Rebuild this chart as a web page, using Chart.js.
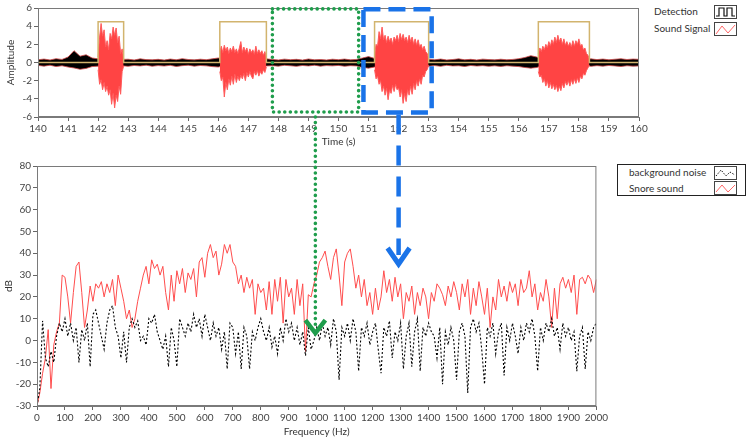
<!DOCTYPE html>
<html>
<head>
<meta charset="utf-8">
<script src="https://cdn.jsdelivr.net/npm/chart.js@4.4.1/dist/chart.umd.min.js"></script>
<style>
html, body { margin: 0; padding: 0; background: #fff; }
#wrap { position: relative; width: 750px; height: 440px; overflow: hidden; font-family: Lato, "Noto Sans", sans-serif; color: #333; }
#topChart { position: absolute; left: 0; top: 0; }
#botChart { position: absolute; left: 0; top: 150px; }
#overlay { position: absolute; left: 0; top: 0; pointer-events: none; }
.lg { position: absolute; font-size: 10px; line-height: 14px; white-space: nowrap; }
.ico { position: absolute; width: 21px; height: 12px; border: 1.5px solid #444; background: #fff; }
.ico svg { display: block; }
#botLegend { position: absolute; left: 617px; top: 164px; width: 127px; height: 30px; border: 1.5px solid #222; }
</style>
</head>
<body>
<div id="wrap">
  <canvas id="topChart" width="650" height="150"></canvas>
  <canvas id="botChart" width="610" height="290"></canvas>

  <div class="lg" style="left:654px;top:4px">Detection</div>
  <div class="ico" style="left:714px;top:5px"><svg width="21" height="12"><path d="M1 10 H4 V2 H9 V10 H12 V2 H17 V10 H20" fill="none" stroke="#111" stroke-width="1.2"/></svg></div>
  <div class="lg" style="left:654px;top:21px">Sound Signal</div>
  <div class="ico" style="left:714px;top:22px"><svg width="21" height="12"><path d="M1 11 L7 3 L13 10 L20 2" fill="none" stroke="#f66" stroke-width="1"/></svg></div>

  <div id="botLegend"></div>
  <div class="lg" style="left:629px;top:165px">background noise</div>
  <div class="ico" style="left:714px;top:166px"><svg width="21" height="12"><path d="M1 9 L6 3 L11 9 L15 5 L20 8" fill="none" stroke="#111" stroke-width="1" stroke-dasharray="1.5,1.5"/></svg></div>
  <div class="lg" style="left:629px;top:181px">Snore sound</div>
  <div class="ico" style="left:714px;top:181px"><svg width="21" height="12"><path d="M1 10 L7 3 L13 10 L20 3" fill="none" stroke="#f66" stroke-width="1"/></svg></div>

  <canvas id="overlay" width="750" height="440"></canvas>
</div>
<script>
// ---- top panel: detection gate (time s / level)
var detectTimes = [140, 142.0, 142.85, 146.05, 147.6, 151.2, 153.0, 156.65, 158.35, 160];
var detectLevels = [0, 4.5, 0, 4.5, 0, 4.5, 0, 4.5, 0, 0];

// background (non-snore) signal envelope, one value every 0.2 s from 140 s
var noiseStart = 140, noiseStep = 0.2;
var noiseUpper = [
  0.30,0.38,0.28,0.42,0.34,0.60,1.30,0.70,0.85,0.50,
  0.40,0.30,0.32,0.30,0.34,0.36,0.28,0.40,0.32,0.30,
  0.35,0.27,0.38,0.30,0.42,0.33,0.29,0.36,0.31,0.40,
  0.50,0.32,0.30,0.30,0.30,0.30,0.30,0.30,0.40,0.34,
  0.28,0.37,0.31,0.35,0.27,0.39,0.30,0.33,0.28,0.36,
  0.31,0.38,0.29,0.34,0.50,0.65,0.45,0.30,0.30,0.30,
  0.30,0.30,0.30,0.30,0.30,0.36,0.30,0.38,0.28,0.33,
  0.40,0.30,0.35,0.28,0.37,0.32,0.29,0.36,0.30,0.34,
  0.42,0.55,0.75,0.60,0.30,0.30,0.30,0.30,0.30,0.30,
  0.30,0.30,0.40,0.32,0.38,0.30,0.36,0.41,0.33,0.38,
  0.35];
var noiseLower = [
  -0.32,-0.40,-0.30,-0.45,-0.36,-0.50,-0.60,-0.75,-0.65,-0.45,
  -0.40,-0.30,-0.30,-0.30,-0.36,-0.42,-0.33,-0.38,-0.30,-0.41,
  -0.34,-0.39,-0.31,-0.44,-0.35,-0.30,-0.40,-0.33,-0.37,-0.45,
  -0.50,-0.30,-0.30,-0.30,-0.30,-0.30,-0.30,-0.30,-0.38,-0.35,
  -0.40,-0.31,-0.36,-0.42,-0.33,-0.38,-0.30,-0.40,-0.34,-0.37,
  -0.32,-0.41,-0.35,-0.38,-0.55,-0.62,-0.50,-0.30,-0.30,-0.30,
  -0.30,-0.30,-0.30,-0.30,-0.30,-0.40,-0.34,-0.42,-0.31,-0.38,
  -0.36,-0.44,-0.33,-0.39,-0.35,-0.41,-0.37,-0.43,-0.36,-0.40,
  -0.45,-0.55,-0.62,-0.55,-0.30,-0.30,-0.30,-0.30,-0.30,-0.30,
  -0.30,-0.30,-0.42,-0.35,-0.40,-0.33,-0.38,-0.44,-0.36,-0.40,
  -0.38];

// snore episodes: envelope every 0.05 s from each start time
var snoreStarts = [142.0, 146.05, 151.2, 156.65];
var snoreStep = 0.05;
var snore1Upper = [0.6,2.8,4.3,2.9,3.6,1.7,2.4,1.4,3.2,2.6,3.9,3.0,3.8,2.2,2.9,1.0,1.5,0.4];
var snore1Lower = [-0.8,-2.4,-1.9,-3.0,-2.2,-3.2,-2.6,-3.6,-3.0,-4.6,-3.4,-5.0,-3.6,-4.3,-2.6,-3.5,-1.0,-0.4];
var snore2Upper = [1.2,1.8,1.1,1.9,1.3,1.7,1.0,1.6,1.2,1.8,1.1,1.5,1.0,1.6,2.3,1.1,1.7,1.2,1.6,0.9,1.5,1.1,1.4,0.9,1.8,1.0,1.4,1.0,1.3,0.8,1.2,0.6];
var snore2Lower = [-1.0,-2.0,-1.6,-3.8,-2.2,-3.0,-1.8,-2.5,-1.5,-2.4,-1.3,-2.2,-1.5,-2.0,-1.4,-1.8,-1.2,-2.0,-1.1,-1.6,-1.0,-1.5,-1.8,-1.0,-1.4,-0.9,-1.5,-1.0,-1.3,-0.8,-1.1,-0.5];
var snore3Upper = [0.8,2.0,1.8,3.4,2.6,3.9,2.5,3.0,2.2,2.9,2.3,2.7,2.0,2.8,2.4,3.0,2.3,3.2,2.5,3.1,2.4,2.8,2.2,3.0,2.3,2.8,2.0,2.6,1.9,2.5,1.7,2.0,1.4,1.8,1.2,1.0,0.4];
var snore3Lower = [-0.8,-1.8,-1.5,-2.4,-2.0,-3.2,-2.6,-3.6,-2.8,-4.1,-3.0,-3.4,-2.5,-3.2,-2.4,-3.0,-2.8,-3.8,-3.0,-4.5,-3.4,-4.3,-3.0,-3.6,-2.6,-3.5,-2.3,-3.0,-2.0,-2.6,-1.8,-2.4,-1.4,-1.6,-1.0,-0.8,-0.3];
var snore4Upper = [1.0,1.6,1.2,1.8,1.4,2.0,1.6,2.3,1.8,2.5,2.0,2.8,2.2,3.0,2.3,2.7,2.0,2.6,1.9,2.3,1.8,2.2,1.7,2.4,1.8,2.4,2.0,2.6,1.8,2.0,1.4,1.6,1.0,0.8,0.4];
var snore4Lower = [-1.0,-1.6,-1.4,-2.2,-1.8,-2.6,-2.0,-2.8,-2.2,-2.9,-2.4,-3.0,-2.5,-3.2,-2.6,-3.1,-2.3,-2.8,-2.1,-2.5,-2.0,-2.6,-1.9,-2.4,-1.8,-2.3,-1.7,-2.2,-1.5,-1.8,-1.2,-1.4,-0.9,-0.6,-0.3];

// ---- bottom panel: spectrum, one value every 10 Hz from 0 Hz
var freqStep = 10;
var snoreDb = [
  -30,-24,-15,-8,5,-22,-2,4,8,30,
  29,20,8,22,34,36,22,6,14,25,
  18,26,24,27,20,26,22,28,16,30,
  24,18,10,14,6,10,18,24,30,34,
  26,37,33,35,30,34,22,14,30,18,
  32,26,33,22,31,28,33,20,36,38,
  29,40,44,38,41,30,35,44,40,44,
  36,34,26,30,22,29,24,28,12,26,
  22,24,14,27,12,28,18,29,8,28,
  20,24,12,28,16,26,-5,21,20,26,
  30,36,38,41,34,28,38,42,30,16,
  36,40,42,34,24,30,20,28,16,22,
  12,24,14,20,32,22,28,18,29,20,
  26,10,22,18,25,12,22,16,24,20,
  10,22,18,26,24,21,16,25,20,27,
  22,14,26,20,28,12,24,16,27,20,
  12,24,6,20,14,28,20,25,18,27,
  22,26,16,28,22,24,32,20,26,14,
  22,18,28,20,6,24,10,26,29,24,
  28,22,30,12,28,29,26,30,28,22,
  28];
var backgroundDb = [
  -30,-22,9,-8,-12,-5,-10,2,8,4,
  10,2,8,0,6,-10,5,0,8,-12,
  12,14,8,2,-4,8,14,16,6,2,
  -8,4,-10,6,10,6,9,0,2,-2,
  10,8,12,4,0,-4,2,-12,6,0,
  -12,10,6,2,8,4,12,6,10,2,
  12,6,0,8,2,6,-4,4,-13,8,
  6,-6,4,-13,6,2,-13,4,0,6,
  10,4,0,6,-3,2,-6,6,0,10,
  4,8,0,6,-2,4,-7,6,-4,0,
  6,0,8,2,6,-2,10,4,-18,6,
  2,8,0,10,4,-14,6,2,8,-2,
  4,8,-4,-15,6,2,9,-8,4,0,
  8,-13,2,8,-12,4,10,-14,6,2,
  8,4,2,-8,6,-20,4,-2,6,0,
  -18,4,8,2,-24,6,10,4,8,-4,
  -20,6,2,8,-6,4,8,-16,6,0,
  8,2,-6,6,0,8,4,10,2,-14,
  6,0,8,4,10,2,6,-4,8,2,
  6,0,4,-14,2,6,-13,4,0,6,
  8];

// annotation boxes / arrows (data units)
var greenBox = { t0: 147.8, t1: 150.67, a0: 5.9, a1: -5.45 };
var greenDrop = { t: 149.23, db: 2.5 };
var blueBox = { t0: 150.83, t1: 153.1, a0: 5.85, a1: -5.5 };
var blueDrop = { t: 152.0, db: 33.7 };

function pts(start, step, vals) {
  return vals.map(function(v, i) { return { x: +(start + i * step).toFixed(3), y: v }; });
}

var frame = {
  id: 'frame',
  afterDraw: function(c) {
    var a = c.chartArea, ctx = c.ctx;
    ctx.save();
    ctx.strokeStyle = '#7a7a7a';
    ctx.lineWidth = 1;
    ctx.strokeRect(a.left + 0.5, a.top + 0.5, a.right - a.left - 1, a.bottom - a.top - 1);
    ctx.restore();
  }
};

var tickFont = { family: 'Lato, "Noto Sans", sans-serif', size: 10 };
var titleFont = { family: 'Lato, "Noto Sans", sans-serif', size: 10 };
function axis(min, max, step, extra) {
  var o = {
    type: 'linear', min: min, max: max,
    ticks: { stepSize: step, autoSkip: false, maxRotation: 0, color: '#444', font: tickFont, padding: 2, callback: function(v) { return String(v); } },
    grid: { drawOnChartArea: false, drawTicks: true, tickLength: 4, color: '#666' },
    border: { color: '#7a7a7a' }
  };
  for (var k in extra) o[k] = extra[k];
  return o;
}

// top chart datasets
var topSets = [{
  data: detectTimes.map(function(t, i) { return { x: t, y: detectLevels[i] }; }),
  borderColor: '#d2b46e', borderWidth: 1.5, stepped: 'before', fill: false
}];
var snoreUps = [snore1Upper, snore2Upper, snore3Upper, snore4Upper];
var snoreLows = [snore1Lower, snore2Lower, snore3Lower, snore4Lower];
snoreStarts.forEach(function(s, i) {
  topSets.push({ data: pts(s, snoreStep, snoreUps[i]), borderColor: '#ff5a5a', borderWidth: 1, fill: false });
  topSets.push({ data: pts(s, snoreStep, snoreLows[i]), borderColor: '#ff5a5a', borderWidth: 1, fill: '-1', backgroundColor: '#ff4444' });
});
topSets.push({ data: pts(noiseStart, noiseStep, noiseUpper), borderColor: '#d04848', borderWidth: 0.8, fill: false });
topSets.push({ data: pts(noiseStart, noiseStep, noiseLower), borderColor: '#d04848', borderWidth: 0.8, fill: '-1', backgroundColor: '#000' });

var topChart = new Chart(document.getElementById('topChart'), {
  type: 'line',
  data: { datasets: topSets },
  options: {
    responsive: false, animation: false,
    layout: { padding: { top: 7, right: 11, left: 0, bottom: 0 } },
    plugins: { legend: { display: false }, tooltip: { enabled: false } },
    elements: { point: { radius: 0 }, line: { tension: 0 } },
    scales: {
      x: axis(140, 160, 1, {
        title: { display: true, text: 'Time (s)', color: '#333', font: titleFont, padding: { top: 0, bottom: 2 } },
        afterFit: function(s) { s.height = 33; }
      }),
      y: axis(-6, 6, 2, {
        title: { display: true, text: 'Amplitude', color: '#333', font: titleFont, padding: { top: 5, bottom: 0 } },
        afterFit: function(s) { s.width = 38; }
      })
    }
  },
  plugins: [frame]
});

var botChart = new Chart(document.getElementById('botChart'), {
  type: 'line',
  data: {
    datasets: [
      { label: 'background noise', data: pts(0, freqStep, backgroundDb), borderColor: '#000', borderWidth: 1.1, borderDash: [2, 2], fill: false },
      { label: 'Snore sound', data: pts(0, freqStep, snoreDb), borderColor: '#ff4d4d', borderWidth: 1, fill: false }
    ]
  },
  options: {
    responsive: false, animation: false,
    layout: { padding: { top: 16, right: 11, left: 0, bottom: 0 } },
    plugins: { legend: { display: false }, tooltip: { enabled: false } },
    elements: { point: { radius: 0 }, line: { tension: 0 } },
    scales: {
      x: axis(0, 2000, 100, {
        title: { display: true, text: 'Frequency (Hz)', color: '#333', font: titleFont, padding: { top: 0, bottom: 2 } },
        afterFit: function(s) { s.height = 34; }
      }),
      y: axis(-30, 80, 10, {
        title: { display: true, text: 'dB', color: '#333', font: titleFont, padding: { top: 3, bottom: 0 } },
        afterFit: function(s) { s.width = 37; }
      })
    }
  },
  plugins: [frame]
});

// overlay: boxes and arrows linking the two panels
(function() {
  var ctx = document.getElementById('overlay').getContext('2d');
  var tx = topChart.scales.x, ty = topChart.scales.y, by = botChart.scales.y;
  var botTop = 150;

  function box(b) {
    var x0 = tx.getPixelForValue(b.t0), x1 = tx.getPixelForValue(b.t1);
    var y0 = ty.getPixelForValue(b.a0), y1 = ty.getPixelForValue(b.a1);
    ctx.strokeRect(x0, y0, x1 - x0, y1 - y0);
    return y1;
  }

  // green dotted
  ctx.save();
  ctx.strokeStyle = '#1f9d4c';
  ctx.lineWidth = 3.6;
  ctx.lineCap = 'round';
  ctx.setLineDash([0, 5.6]);
  var gBottom = box(greenBox);
  var gx = tx.getPixelForValue(greenDrop.t);
  var gTip = botTop + by.getPixelForValue(greenDrop.db);
  ctx.beginPath(); ctx.moveTo(gx, gBottom + 5); ctx.lineTo(gx, gTip - 6); ctx.stroke();
  ctx.setLineDash([]);
  ctx.lineWidth = 4.5; ctx.lineCap = 'butt'; ctx.lineJoin = 'miter';
  ctx.beginPath(); ctx.moveTo(gx - 10, gTip - 15); ctx.lineTo(gx, gTip - 2); ctx.lineTo(gx + 10, gTip - 15); ctx.stroke();
  ctx.restore();

  // blue dashed
  ctx.save();
  ctx.strokeStyle = '#1a73e8';
  ctx.lineWidth = 4.5;
  ctx.setLineDash([17, 8]);
  var bBottom = box(blueBox);
  var bx = tx.getPixelForValue(blueDrop.t);
  var bTip = botTop + by.getPixelForValue(blueDrop.db);
  ctx.setLineDash([20, 11]);
  ctx.beginPath(); ctx.moveTo(bx, bBottom + 2); ctx.lineTo(bx, bTip - 12); ctx.stroke();
  ctx.setLineDash([]);
  ctx.lineWidth = 5;
  ctx.beginPath(); ctx.moveTo(bx - 11, bTip - 19); ctx.lineTo(bx, bTip - 3); ctx.lineTo(bx + 11, bTip - 19); ctx.stroke();
  ctx.restore();
})();
</script>
</body>
</html>
